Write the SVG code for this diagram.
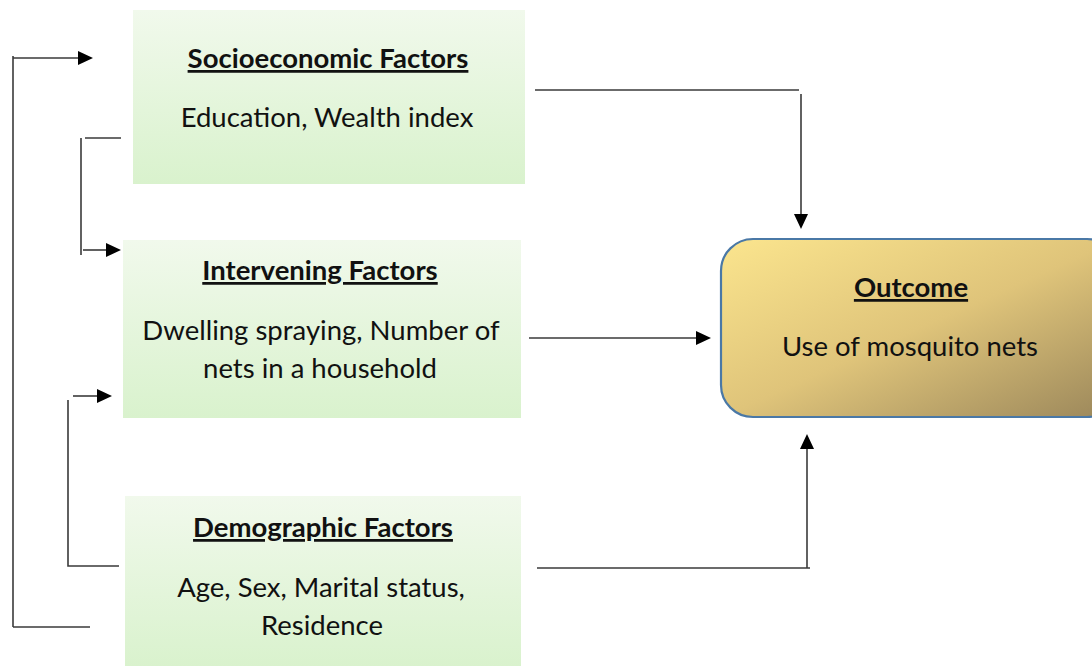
<svg xmlns="http://www.w3.org/2000/svg" width="1092" height="666" viewBox="0 0 1092 666">
<style>
.t{font-family:Lato,"Open Sans","Liberation Sans",sans-serif;font-size:27.5px;fill:#111;text-anchor:middle}
.h{font-weight:bold;text-decoration:underline}
.c{fill:none;stroke:#3a3a3a;stroke-width:1.6}
</style>
<defs>
<linearGradient id="g" x1="0" y1="0" x2="0" y2="1"><stop offset="0" stop-color="#f1f9ec"/><stop offset="1" stop-color="#d9f2cd"/></linearGradient>
<linearGradient id="o" x1="0" y1="0" x2="1" y2="1"><stop offset="0" stop-color="#fbe58e"/><stop offset="0.5" stop-color="#dfc47a"/><stop offset="1" stop-color="#9a865a"/></linearGradient>
</defs>
<g id="socioeconomic">
<rect x="133" y="10" width="392" height="174" fill="url(#g)"/>
<text class="t h" x="328" y="68">Socioeconomic Factors</text>
<text class="t" x="327" y="127">Education, Wealth index</text>
</g>
<g id="intervening">
<rect x="123" y="240" width="398" height="178" fill="url(#g)"/>
<text class="t h" x="320" y="280">Intervening Factors</text>
<text class="t" x="321" y="340">Dwelling spraying, Number of</text>
<text class="t" x="320" y="378">nets in a household</text>
</g>
<g id="demographic">
<rect x="125" y="496" width="396" height="172" fill="url(#g)"/>
<text class="t h" x="323" y="537">Demographic Factors</text>
<text class="t" x="321" y="597">Age, Sex, Marital status,</text>
<text class="t" x="322" y="635">Residence</text>
</g>
<g id="outcome">
<rect x="721" y="239" width="398" height="178" rx="32" fill="url(#o)" stroke="#4a78a6" stroke-width="2.2"/>
<text class="t h" x="911" y="297">Outcome</text>
<text class="t" x="910" y="356">Use of mosquito nets</text>
</g>
<g id="connectors">
<path class="c" d="M13,56V627"/>
<path class="c" d="M13,58H78"/>
<path d="M78,51L93,58L78,65z" fill="#000"/>
<path class="c" d="M13,627H90"/>
<path class="c" d="M85,138H121"/>
<path class="c" d="M81,138V255"/>
<path class="c" d="M83,250H106"/>
<path d="M106,243L121,250L106,257z" fill="#000"/>
<path class="c" d="M68,400V566H119"/>
<path class="c" d="M73,396H97"/>
<path d="M97,389L112,396L97,403z" fill="#000"/>
<path class="c" d="M535,90H799"/>
<path class="c" d="M801,94V214"/>
<path d="M794,214L801,229L808,214z" fill="#000"/>
<path class="c" d="M529,338H696"/>
<path d="M696,331L711,338L696,345z" fill="#000"/>
<path class="c" d="M537,568H810"/>
<path class="c" d="M807,568V449"/>
<path d="M800,449L807,434L814,449z" fill="#000"/>
</g>
</svg>
